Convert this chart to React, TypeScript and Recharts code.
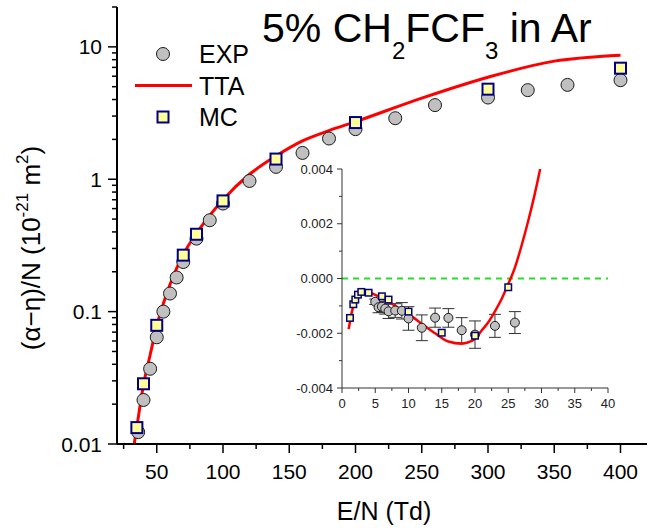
import React from 'react';
import {
  ComposedChart,
  XAxis,
  YAxis,
  Scatter,
  Line,
  Legend,
  ReferenceLine,
  ErrorBar,
} from 'recharts';

const FONT = '"Liberation Sans", Arial, Helvetica, sans-serif';

// --- main panel: (alpha - eta)/N vs E/N ---
const expEN = [36, 40, 45, 50, 55, 60, 65, 70, 80, 90, 100, 120, 140, 160, 180, 200, 230, 260, 300, 330, 360, 400];
const expVal = [0.0123, 0.0215, 0.037, 0.064, 0.1, 0.137, 0.181, 0.237, 0.356, 0.49, 0.655, 0.97, 1.24, 1.58, 2.03, 2.39, 2.89, 3.63, 4.14, 4.71, 5.16, 5.6];

const mcEN = [35, 40, 50, 70, 80, 100, 140, 200, 300, 400];
const mcVal = [0.0133, 0.0285, 0.0788, 0.267, 0.384, 0.686, 1.42, 2.68, 4.79, 6.9];

const ttaEN = [33, 35, 40, 45, 50, 55, 60, 70, 80, 100, 120, 140, 160, 180, 200, 250, 300, 350, 400];
const ttaVal = [0.01, 0.0135, 0.028, 0.047, 0.078, 0.115, 0.16, 0.27, 0.39, 0.7, 1.09, 1.5, 1.95, 2.33, 2.72, 4.1, 5.9, 7.8, 8.65];

const mainXMajor = [50, 100, 150, 200, 250, 300, 350, 400];
const mainXMinor = [25, 75, 125, 175, 225, 275, 325, 375];
const mainYMajor = [0.01, 0.1, 1, 10];
const mainYMinor = [
  0.02, 0.03, 0.04, 0.05, 0.06, 0.07, 0.08, 0.09,
  0.2, 0.3, 0.4, 0.5, 0.6, 0.7, 0.8, 0.9,
  2, 3, 4, 5, 6, 7, 8, 9, 20,
];

// --- inset: near-zero region ---
const inExpEN = [5, 5.5, 6, 6.5, 7, 8, 9, 10, 12, 14, 16, 18, 20, 23, 26];
const inExpVal = [-0.00085, -0.00105, -0.00103, -0.0011, -0.0012, -0.00117, -0.00118, -0.00146, -0.0018, -0.00143, -0.00144, -0.00189, -0.00205, -0.00173, -0.00161];
const inExpErr = [0.0001, 0.0002, 0.0002, 0.0002, 0.00026, 0.00025, 0.0003, 0.00043, 0.00047, 0.00035, 0.00034, 0.00046, 0.0005, 0.00042, 0.0004];

const inMcEN = [1.2, 1.7, 2, 2.4, 2.9, 4, 6, 7, 10, 15, 20, 25];
const inMcVal = [-0.00144, -0.00094, -0.00077, -0.00059, -0.00049, -0.00052, -0.00065, -0.00077, -0.00121, -0.00198, -0.00209, -0.00032];

const inTtaEN = [1, 1.5, 2, 2.5, 3, 3.5, 4, 5, 6, 7, 8, 9, 10, 12, 14, 16, 18, 19, 20, 21, 22, 23, 24, 25, 26, 27, 28, 29, 29.8];
const inTtaVal = [-0.00185, -0.0012, -0.0008, -0.0006, -0.0005, -0.00048, -0.0005, -0.0006, -0.00072, -0.00085, -0.001, -0.00115, -0.0013, -0.00165, -0.002, -0.0023, -0.00238, -0.00233, -0.0022, -0.0019, -0.0016, -0.0012, -0.00075, -0.0002, 0.0004, 0.0012, 0.0021, 0.0031, 0.004];

const insetXMajor = [0, 5, 10, 15, 20, 25, 30, 35, 40];
const insetXMinor = [2.5, 7.5, 12.5, 17.5, 22.5, 27.5, 32.5, 37.5];
const insetYMajor = [-0.004, -0.002, 0, 0.002, 0.004];
const insetYMinor = [-0.003, -0.001, 0.001, 0.003];

const legendNames = ['EXP', 'TTA', 'MC'];

const zip = (xs: number[], ys: number[]) => xs.map((x, i) => ({ x, y: ys[i] }));

const mainExp = zip(expEN, expVal);
const mainMc = zip(mcEN, mcVal);
const mainTta = zip(ttaEN, ttaVal);
const insetExp = inExpEN.map((x, i) => ({ x, y: inExpVal[i], err: inExpErr[i] }));
const insetMc = zip(inMcEN, inMcVal);
const insetTta = zip(inTtaEN, inTtaVal);

// markers
const makeCircle = (r: number) => (p: any) => (
  <circle cx={p.cx} cy={p.cy} r={r} fill="#c0c0c0" stroke="#1a1a1a" strokeWidth={1} />
);
const makeSquare = (s: number, sw: number) => (p: any) => (
  <rect x={p.cx - s / 2} y={p.cy - s / 2} width={s} height={s} fill="#ffff99" stroke="#000080" strokeWidth={sw} />
);

// ticks (tickSize/tickMargin = 0, so x/y is the axis line)
const MainXTick = (props: any) => {
  const { x, y, payload } = props;
  const major = mainXMajor.includes(payload.value);
  return (
    <g>
      <line x1={x} x2={x} y1={y} y2={y + (major ? 9 : 5)} stroke="#000" strokeWidth={1.5} />
      {major && (
        <text x={x} y={y + 35} textAnchor="middle" fontSize={21} fontFamily={FONT} fill="#000">
          {payload.value}
        </text>
      )}
    </g>
  );
};

const MainYTick = (props: any) => {
  const { x, y, payload } = props;
  const major = mainYMajor.includes(payload.value);
  return (
    <g>
      <line x1={x} x2={x - (major ? 9 : 5)} y1={y} y2={y} stroke="#000" strokeWidth={1.5} />
      {major && (
        <text x={x - 15} y={y} dy="0.36em" textAnchor="end" fontSize={21} fontFamily={FONT} fill="#000">
          {payload.value}
        </text>
      )}
    </g>
  );
};

const InsetXTick = (props: any) => {
  const { x, y, payload } = props;
  const major = insetXMajor.includes(payload.value);
  return (
    <g>
      <line x1={x} x2={x} y1={y} y2={y + (major ? 5 : 3)} stroke="#333" strokeWidth={1} />
      {major && (
        <text x={x} y={y + 20} textAnchor="middle" fontSize={13} fontFamily={FONT} fill="#222">
          {payload.value}
        </text>
      )}
    </g>
  );
};

const InsetYTick = (props: any) => {
  const { x, y, payload } = props;
  const major = insetYMajor.includes(payload.value);
  return (
    <g>
      <line x1={x} x2={x - (major ? 5 : 3)} y1={y} y2={y} stroke="#333" strokeWidth={1} />
      {major && (
        <text x={x - 9} y={y} dy="0.36em" textAnchor="end" fontSize={13} fontFamily={FONT} fill="#222">
          {payload.value.toFixed(3)}
        </text>
      )}
    </g>
  );
};

const LegendBox = () => (
  <svg width={130} height={100} style={{ display: 'block', overflow: 'visible' }}>
    {legendNames.map((name, i) => {
      const cy = 18 + i * 31.5;
      return (
        <g key={name}>
          {name === 'EXP' && <circle cx={33} cy={cy} r={6.5} fill="#c0c0c0" stroke="#1a1a1a" strokeWidth={1} />}
          {name === 'TTA' && <line x1={5} x2={62} y1={cy} y2={cy} stroke="#ff0000" strokeWidth={3} />}
          {name === 'MC' && <rect x={27.5} y={cy - 5.5} width={11} height={11} fill="#ffff99" stroke="#000080" strokeWidth={2} />}
          <text x={69} y={cy} dy="0.36em" fontSize={25} fontFamily={FONT} fill="#000">
            {name}
          </text>
        </g>
      );
    })}
  </svg>
);

export default function App() {
  return (
    <div style={{ position: 'absolute', left: 0, top: 0, width: 653, height: 528, background: '#fff' }}>
      <ComposedChart width={653} height={528} margin={{ top: 7, right: 6, bottom: 44, left: 57 }}>
        <XAxis
          type="number"
          dataKey="x"
          domain={[20, 420]}
          ticks={[...mainXMinor, ...mainXMajor].sort((a, b) => a - b)}
          interval={0}
          tickSize={0}
          tickMargin={0}
          height={40}
          tick={<MainXTick />}
          axisLine={{ stroke: '#000', strokeWidth: 2 }}
          allowDataOverflow
        />
        <YAxis
          type="number"
          dataKey="y"
          scale="log"
          domain={[0.01, 20]}
          ticks={[...mainYMajor, ...mainYMinor].sort((a, b) => a - b)}
          interval={0}
          tickSize={0}
          tickMargin={0}
          width={60}
          tick={<MainYTick />}
          axisLine={{ stroke: '#000', strokeWidth: 2 }}
          allowDataOverflow
        />
        <Scatter data={mainExp} name="EXP" shape={makeCircle(6.5)} isAnimationActive={false} />
        <Line
          data={mainTta}
          dataKey="y"
          name="TTA"
          type="monotone"
          stroke="#ff0000"
          strokeWidth={3}
          dot={false}
          activeDot={false}
          isAnimationActive={false}
        />
        <Scatter data={mainMc} name="MC" shape={makeSquare(11, 2)} isAnimationActive={false} />
        <Legend
          layout="vertical"
          align="center"
          verticalAlign="middle"
          content={<LegendBox />}
          wrapperStyle={{ left: 130, top: 36, width: 130, height: 100 }}
        />
        <text x={262} y={42} fontSize={41} fontFamily={FONT} fill="#000">
          5% CH
          <tspan fontSize={24} dy={17}>2</tspan>
          <tspan dy={-17}>FCF</tspan>
          <tspan fontSize={24} dy={17}>3</tspan>
          <tspan dy={-17}>{' in Ar'}</tspan>
        </text>
        <text x={384} y={520} textAnchor="middle" fontSize={25} fontFamily={FONT} fill="#000">
          E/N (Td)
        </text>
        <text transform="translate(40,248) rotate(-90)" textAnchor="middle" fontSize={26} fontFamily={FONT} fill="#000">
          (α−η)/N (10
          <tspan fontSize={17} dy={-12}>-21</tspan>
          <tspan dy={12}>{' m'}</tspan>
          <tspan fontSize={17} dy={-12}>2</tspan>
          <tspan dy={12}>)</tspan>
        </text>
      </ComposedChart>

      <div style={{ position: 'absolute', left: 280, top: 150 }}>
        <ComposedChart width={340} height={280} margin={{ top: 19, right: 12, bottom: 12, left: 12 }}>
          <XAxis
            type="number"
            dataKey="x"
            domain={[0, 40]}
            ticks={[...insetXMajor, ...insetXMinor].sort((a, b) => a - b)}
            interval={0}
            tickSize={0}
            tickMargin={0}
            height={30}
            tick={<InsetXTick />}
            axisLine={{ stroke: '#333', strokeWidth: 1 }}
            allowDataOverflow
          />
          <YAxis
            type="number"
            dataKey="y"
            domain={[-0.004, 0.004]}
            ticks={[...insetYMajor, ...insetYMinor].sort((a, b) => a - b)}
            interval={0}
            tickSize={0}
            tickMargin={0}
            width={50}
            tick={<InsetYTick />}
            axisLine={{ stroke: '#333', strokeWidth: 1 }}
            allowDataOverflow
          />
          <ReferenceLine y={0} stroke="#22e022" strokeWidth={2} strokeDasharray="6 5" />
          <Scatter data={insetExp} shape={makeCircle(4.5)} isAnimationActive={false}>
            <ErrorBar dataKey="err" direction="y" width={6} stroke="#333" strokeWidth={1} isAnimationActive={false} />
          </Scatter>
          <Line
            data={insetTta}
            dataKey="y"
            type="monotone"
            stroke="#ff0000"
            strokeWidth={2.5}
            dot={false}
            activeDot={false}
            isAnimationActive={false}
          />
          <Scatter data={insetMc} shape={makeSquare(6.5, 1.5)} isAnimationActive={false} />
        </ComposedChart>
      </div>
    </div>
  );
}
